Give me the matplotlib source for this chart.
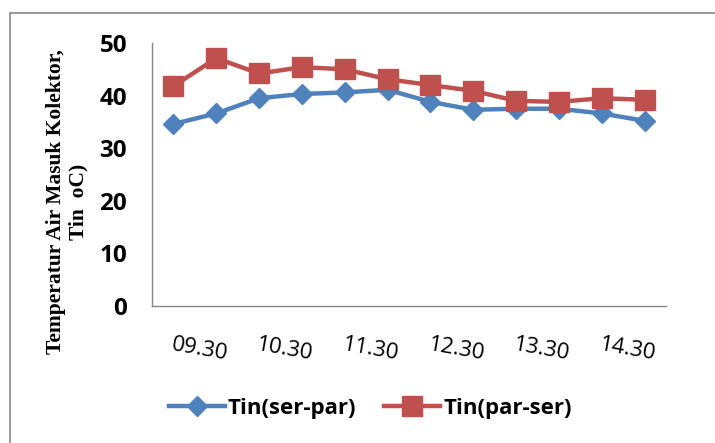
import numpy as np
import matplotlib.pyplot as plt
from matplotlib.patches import Rectangle

times = ['09.30', '10.00', '10.30', '11.00', '11.30', '12.00',
         '12.30', '13.00', '13.30', '14.00', '14.30', '15.00']
tin_ser_par = [34.6, 36.6, 39.5, 40.3, 40.6, 41.1, 38.8, 37.3, 37.5, 37.5, 36.6, 35.2]
tin_par_ser = [41.8, 47.1, 44.2, 45.4, 45.0, 43.1, 42.0, 40.9, 39.0, 38.8, 39.5, 39.2]
y_ticks = [0, 10, 20, 30, 40, 50]

blue = '#4F81BD'
red = '#C0504D'
grey = '#868686'

fig = plt.figure(figsize=(7.15, 4.43), dpi=100)
ax = fig.add_axes([0.2126, 0.3093, 0.7189, 0.5937])

x = np.arange(len(times))
ax.plot(x, tin_ser_par, color=blue, lw=3.2, marker='D', ms=10, label='Tin(ser-par)')
ax.plot(x, tin_par_ser, color=red, lw=3.2, marker='s', ms=14, label='Tin(par-ser)')

ax.set_xlim(-0.5, len(times) - 0.5)
ax.set_ylim(0, 50)
ax.set_yticks(y_ticks)
ax.set_yticklabels([str(v) for v in y_ticks], fontfamily='Open Sans', fontweight='bold', fontsize=17.5)
ax.set_xticks(x[::2])
ax.set_xticklabels(times[::2], fontfamily='Open Sans', fontsize=16, rotation=-10,
                   ha='left', va='top', rotation_mode='anchor')
ax.tick_params(axis='y', length=0, pad=18)
ax.tick_params(axis='x', length=0, pad=20)

for side in ['top', 'right']:
    ax.spines[side].set_visible(False)
for side in ['left', 'bottom']:
    ax.spines[side].set_color(grey)
    ax.spines[side].set_linewidth(1)

fig.text(0.094, 0.545, 'Temperatur Air Masuk Kolektor,\nTin  oC)', rotation=90,
         ha='center', va='center', multialignment='center',
         fontfamily='Liberation Serif', fontweight='bold', fontsize=15.5, linespacing=1.15)

fig.legend(loc='center', bbox_to_anchor=(0.518, 0.079), ncol=2, frameon=False,
           prop={'family': 'Open Sans', 'weight': 'bold', 'size': 16},
           handlelength=2.5, handletextpad=0.15, columnspacing=1.25)

# chart area border (cut off at the right and bottom)
fig.patches.append(Rectangle((0.014, -0.1), 1.1, 1.0707, transform=fig.transFigure,
                             fill=False, edgecolor=grey, lw=1.2))

fig.savefig('out.png', dpi=100)
